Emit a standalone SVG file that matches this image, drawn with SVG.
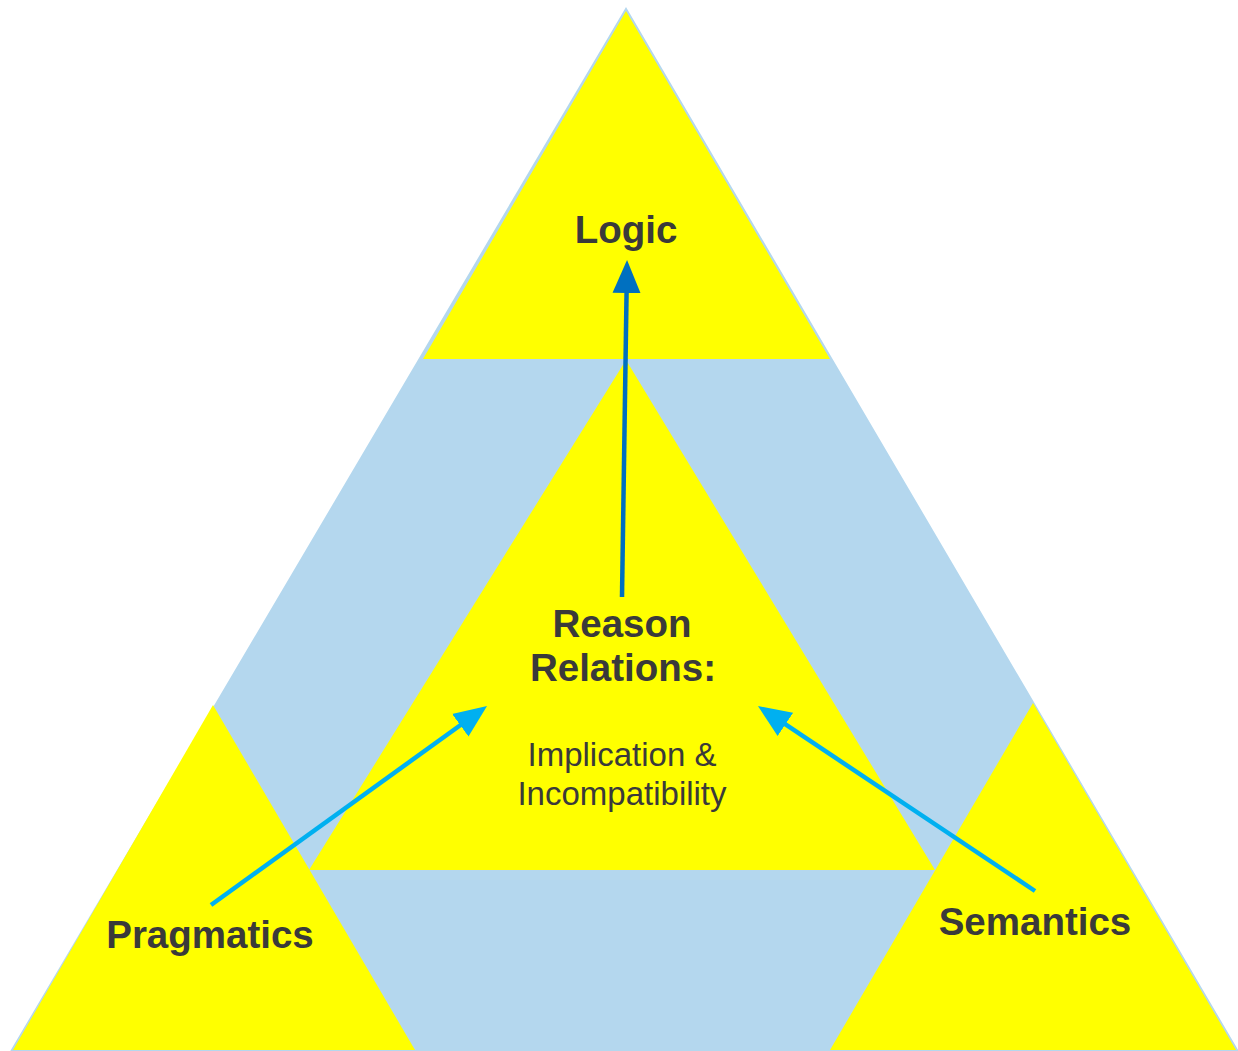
<svg xmlns="http://www.w3.org/2000/svg" width="1238" height="1051" viewBox="0 0 1238 1051">
<defs>
<style>
.bg{fill:#b4d7ee;stroke:#b4d7ee;stroke-width:2}
.yl{fill:#ffff00;stroke:none}
.t{font-family:"Liberation Sans",Arial,sans-serif;fill:#3a3a3a;text-anchor:middle}
.b{font-weight:bold;font-size:38.5px}
.r{font-size:33px}
.c1{stroke:#0070c0;stroke-width:4.5;fill:none}
.c2{stroke:#00b0f0;stroke-width:4.5;fill:none}
</style>
<marker id="ah1" markerUnits="userSpaceOnUse" markerWidth="34" markerHeight="30" refX="3" refY="14" orient="auto" viewBox="0 0 34 28">
<path d="M0,0 L33,14 L0,28 Z" fill="#0070c0"/>
</marker>
<marker id="ah2" markerUnits="userSpaceOnUse" markerWidth="34" markerHeight="30" refX="3" refY="14" orient="auto" viewBox="0 0 34 28">
<path d="M0,0 L33,14 L0,28 Z" fill="#00b0f0"/>
</marker>
</defs>
<g id="outer">
<polygon class="bg" points="626,9 12,1050 1237,1050"/>
</g>
<g id="logic">
<polygon class="yl" points="626,11 423,359 830,359"/>
<text class="t b" x="626" y="243">Logic</text>
</g>
<g id="reason">
<polygon class="yl" points="626,360 309,870 935,870"/>
<text class="t b" x="622" y="637">Reason</text>
<text class="t b" x="623" y="681">Relations:</text>
<text class="t r" x="622" y="766">Implication &amp;</text>
<text class="t r" x="622" y="805">Incompatibility</text>
</g>
<g id="pragmatics">
<polygon class="yl" points="213,705 13,1050 415,1050"/>
<text class="t b" x="210" y="948">Pragmatics</text>
</g>
<g id="semantics">
<polygon class="yl" points="1033,703 830,1050 1236,1050"/>
<text class="t b" x="1035" y="935">Semantics</text>
</g>
<g id="connectors">
<line class="c1" x1="622" y1="597" x2="626.6" y2="290" marker-end="url(#ah1)"/>
<line class="c2" x1="211" y1="905" x2="462.7" y2="723.5" marker-end="url(#ah2)"/>
<line class="c2" x1="1035" y1="891" x2="782.9" y2="722.7" marker-end="url(#ah2)"/>
</g>
</svg>
